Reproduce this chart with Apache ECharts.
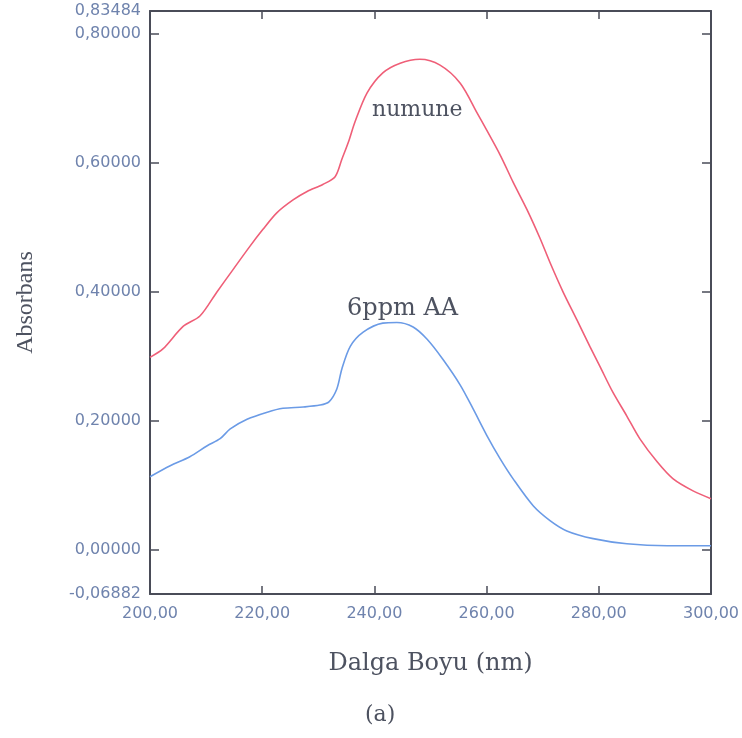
<!DOCTYPE html>
<html>
<head>
<meta charset="utf-8">
<script src="https://cdn.jsdelivr.net/npm/echarts@6/dist/echarts.min.js"></script>
<style>
  html, body { margin: 0; padding: 0; background: #fff; }
  #chart { width: 742px; height: 738px; }
</style>
</head>
<body>
<div id="chart"></div>
<script>
// numune (sample) curve
const numuneX = [200.0, 202.3, 205.9, 208.9, 211.9, 214.8, 217.8, 220.1, 222.6, 225.5, 228.0, 230.8, 233.0,
  234.2, 235.5, 236.5, 238.7, 241.5, 244.6, 248.1, 251.7, 255.3, 258.3, 262.4, 264.7, 267.2, 269.5,
  271.3, 273.6, 276.1, 278.4, 280.2, 282.5, 285.0, 287.3, 290.4, 293.2, 296.8, 300.0];
const numuneY = [0.298, 0.311, 0.346, 0.362, 0.399, 0.434, 0.470, 0.496, 0.522, 0.542, 0.555, 0.566, 0.578,
  0.605, 0.635, 0.662, 0.708, 0.739, 0.754, 0.760, 0.751, 0.723, 0.677, 0.612, 0.570, 0.527, 0.483,
  0.445, 0.400, 0.356, 0.315, 0.284, 0.244, 0.207, 0.172, 0.136, 0.110, 0.091, 0.079];

// 6ppm AA standard curve
const aaX = [200.0, 203.6, 207.1, 210.2, 212.5, 214.3, 217.3, 220.9, 223.7, 227.3, 230.3, 231.9, 233.3,
  234.2, 235.7, 238.0, 241.5, 244.0, 246.9, 249.4, 252.2, 255.3, 257.6, 260.1, 262.4, 264.7, 268.3,
  271.3, 274.3, 279.0, 285.0, 292.2, 300.0];
const aaY = [0.113, 0.130, 0.144, 0.161, 0.172, 0.187, 0.202, 0.213, 0.219, 0.221, 0.224, 0.229, 0.249,
  0.280, 0.315, 0.337, 0.351, 0.352, 0.345, 0.326, 0.295, 0.255, 0.218, 0.176, 0.141, 0.110, 0.068,
  0.045, 0.029, 0.017, 0.009, 0.006, 0.006];

const yMin = -0.06882;
const yMax = 0.83484;
const yLabelValues = [-0.06882, 0, 0.2, 0.4, 0.6, 0.8, 0.83484];
const yTickValues = [0, 0.2, 0.4, 0.6, 0.8];

const axisColor = '#4a4c58';
const numColor = '#6f83ad';
const textColor = '#4d5260';

function pairs(xs, ys) {
  let out = [];
  for (let i = 0; i < xs.length; i++) {
    out.push([xs[i], ys[i]]);
  }
  return out;
}

function fmt(v, d) {
  return v.toFixed(d).replace('.', ',');
}

const chart = echarts.init(document.getElementById('chart'));

const xCommon = {
  type: 'value',
  min: 200,
  max: 300,
  interval: 20,
  axisLine: { show: true, onZero: false, lineStyle: { color: axisColor, width: 2 } },
  axisTick: { show: true, inside: true, length: 8, lineStyle: { color: axisColor, width: 1.5 } },
  splitLine: { show: false }
};

const yCommon = {
  type: 'value',
  min: yMin,
  max: yMax,
  axisLine: { show: true, onZero: false, lineStyle: { color: axisColor, width: 2 } },
  axisTick: { show: true, inside: true, length: 9, customValues: yTickValues,
    lineStyle: { color: axisColor, width: 1.5 } },
  splitLine: { show: false }
};

const options = {
  backgroundColor: '#fff',
  animation: false,
  grid: { left: 150, right: 31, top: 11, bottom: 144 },
  xAxis: [
    Object.assign({}, xCommon, {
      position: 'bottom',
      name: 'Dalga Boyu (nm)',
      nameLocation: 'middle',
      nameGap: 58,
      nameTextStyle: { fontFamily: 'DejaVu Serif', fontSize: 24, color: textColor },
      axisLabel: {
        margin: 12,
        fontFamily: 'DejaVu Sans',
        fontSize: 16,
        color: numColor,
        formatter: function (v) { return fmt(v, 2); }
      }
    }),
    Object.assign({}, xCommon, {
      position: 'top',
      axisLabel: { show: false }
    })
  ],
  yAxis: [
    Object.assign({}, yCommon, {
      position: 'left',
      name: 'Absorbans',
      nameLocation: 'middle',
      nameGap: 112,
      nameTextStyle: { fontFamily: 'Liberation Serif', fontSize: 24, color: textColor },
      axisLabel: {
        margin: 9,
        fontFamily: 'DejaVu Sans',
        fontSize: 16,
        color: numColor,
        customValues: yLabelValues,
        formatter: function (v) { return fmt(v, 5); }
      }
    }),
    Object.assign({}, yCommon, {
      position: 'right',
      axisLabel: { show: false }
    })
  ],
  series: [
    {
      name: 'numune',
      type: 'line',
      data: pairs(numuneX, numuneY),
      smooth: 0.3,
      showSymbol: false,
      lineStyle: { color: '#ef5f78', width: 1.6 },
      z: 3
    },
    {
      name: '6ppm AA',
      type: 'line',
      data: pairs(aaX, aaY),
      smooth: 0.3,
      showSymbol: false,
      lineStyle: { color: '#6b9be6', width: 1.6 },
      z: 3
    }
  ],
  graphic: [
    {
      type: 'text',
      left: 372,
      top: 99,
      style: { text: 'numune', font: '22px "DejaVu Serif"', fill: textColor }
    },
    {
      type: 'text',
      left: 347,
      top: 297,
      style: { text: '6ppm AA', font: '24px "DejaVu Serif"', fill: textColor }
    },
    {
      type: 'text',
      left: 365,
      top: 704,
      style: { text: '(a)', font: '22px "DejaVu Serif"', fill: textColor }
    }
  ]
};

chart.setOption(options);
</script>
</body>
</html>
